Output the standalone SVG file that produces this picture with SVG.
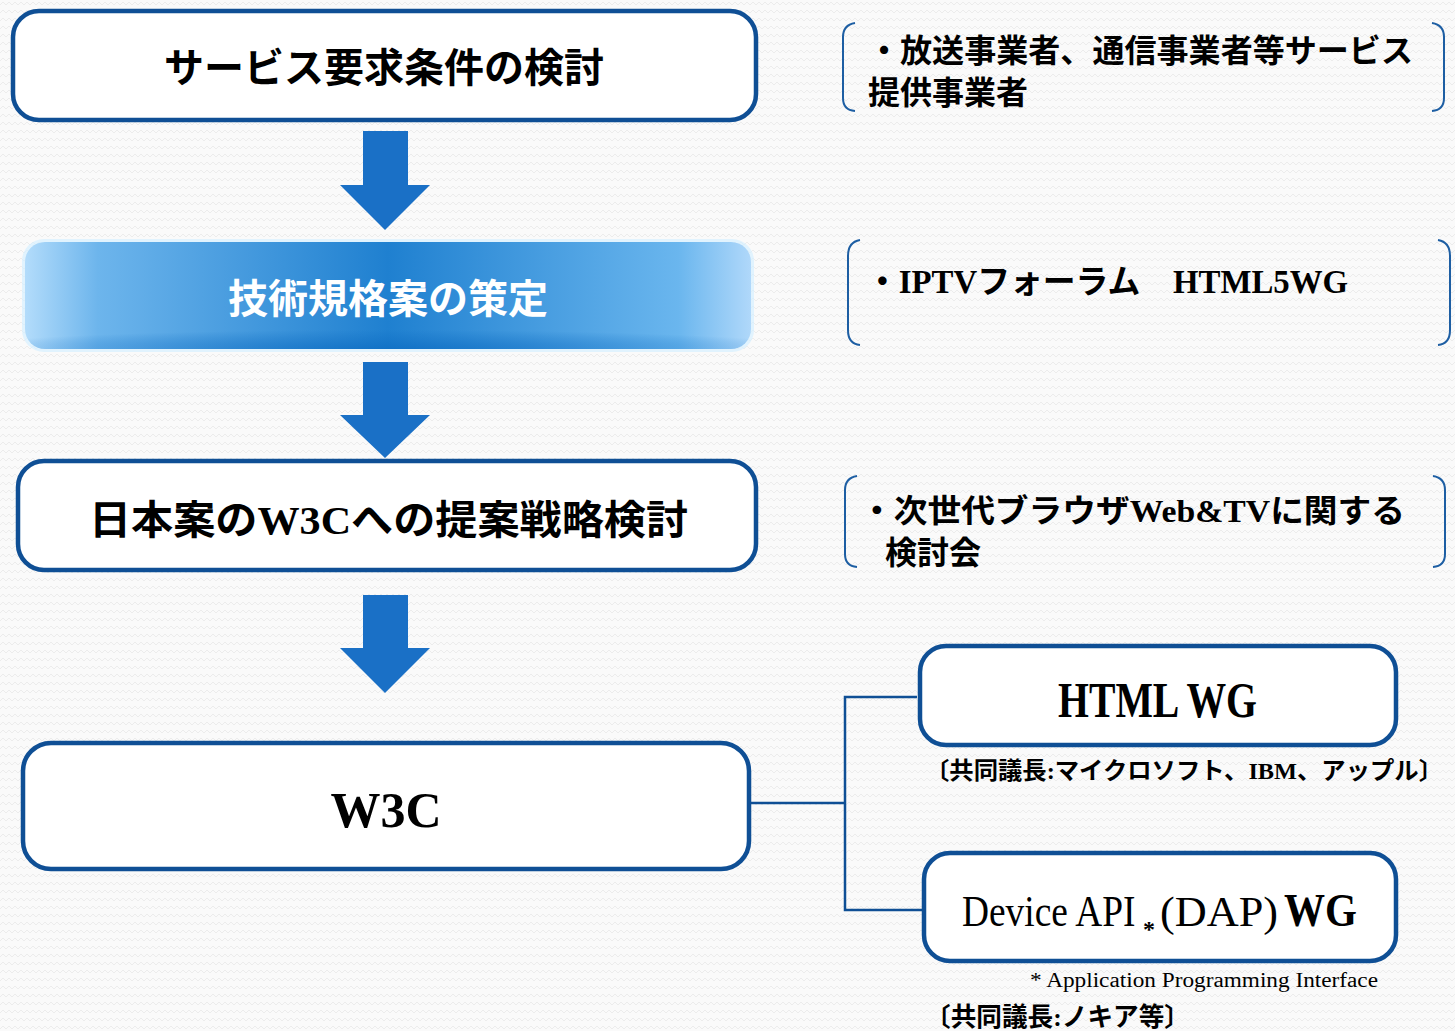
<svg xmlns="http://www.w3.org/2000/svg" width="1455" height="1031" viewBox="0 0 1455 1031">
<defs>
<pattern id="bg" width="12" height="8" patternUnits="userSpaceOnUse">
<rect width="12" height="8" fill="#fafafa"/>
<polyline points="0,5 3,2 6,5 9,2 12,5" fill="none" stroke="#ececec" stroke-width="1"/>
</pattern>
<linearGradient id="g2" x1="0" y1="0" x2="1" y2="0">
<stop offset="0" stop-color="#b3dcfb"/>
<stop offset="0.1" stop-color="#6db5ec"/>
<stop offset="0.5" stop-color="#1f80d0"/>
<stop offset="0.9" stop-color="#6ab6ee"/>
<stop offset="1" stop-color="#b0d8fa"/>
</linearGradient>
<radialGradient id="g2b" cx="0.5" cy="1" r="0.6" gradientTransform="translate(0.5 1) scale(1 0.3) translate(-0.5 -1)">
<stop offset="0" stop-color="#0d6cc2" stop-opacity="0.7"/>
<stop offset="1" stop-color="#0d6cc2" stop-opacity="0"/>
</radialGradient>
<style>
.box{fill:#ffffff;stroke:#0f4f95;stroke-width:4.5}
.arr{fill:#1a70c6}
.brk{fill:none;stroke:#1d5ea3;stroke-width:2}
.con{fill:none;stroke:#0f4f95;stroke-width:2.5}
.t{font-family:"Liberation Serif","Noto Sans CJK JP",serif;font-weight:bold;fill:#000}
.c{text-anchor:middle}
</style>
</defs>
<rect width="1455" height="1031" fill="url(#bg)"/>

<g id="connectors">
<polyline class="con" points="749,803 845,803"/>
<polyline class="con" points="917,697 845,697 845,910 923,910"/>
</g>

<g id="arrows">
<polygon class="arr" points="363,131 408,131 408,185 430,185 385,230 340,185 363,185"/>
<polygon class="arr" points="363,362 408,362 408,415 430,415 385,458 340,415 363,415"/>
<polygon class="arr" points="363,595 408,595 408,648 430,648 385,693 340,648 363,648"/>
</g>

<g id="node1">
<rect class="box" x="13" y="11" width="743" height="109" rx="26"/>
<text class="t c" x="384" y="82" font-size="40">サービス要求条件の検討</text>
</g>

<g id="node2">
<rect x="22" y="239" width="732" height="113" rx="22" fill="#d6f0ff" opacity="0.7"/>
<rect x="25" y="242" width="726" height="107" rx="20" fill="url(#g2)"/>
<rect x="25" y="242" width="726" height="107" rx="20" fill="url(#g2b)"/>
<text class="t c" x="388" y="313" font-size="40" style="fill:#ffffff">技術規格案の策定</text>
</g>

<g id="node3">
<rect class="box" x="18" y="461" width="738" height="109" rx="26"/>
<text class="t" x="89" y="534" font-size="40" textLength="599" lengthAdjust="spacingAndGlyphs">日本案のW3Cへの提案戦略検討</text>
</g>

<g id="node4">
<rect class="box" x="23" y="743" width="726" height="126" rx="28"/>
<text class="t c" x="386" y="827" font-size="50">W3C</text>
</g>

<g id="node5">
<rect class="box" x="920" y="646" width="476" height="99" rx="26"/>
<text class="t" x="1058" y="717" font-size="50" textLength="199" lengthAdjust="spacingAndGlyphs">HTML WG</text>
</g>
<text class="t" x="925" y="779" font-size="24" textLength="518" lengthAdjust="spacingAndGlyphs">〔共同議長:マイクロソフト、IBM、アップル〕</text>

<g id="node6">
<rect class="box" x="924" y="853" width="472" height="108" rx="26"/>
<g transform="translate(962,926) scale(0.85,1)">
<text class="t" x="0" y="0" font-size="44" style="font-weight:normal">Device API</text>
</g>
<text class="t" x="1143" y="937" font-size="24">*</text>
<text class="t" x="1160" y="926" font-size="42" style="font-weight:normal" textLength="118" lengthAdjust="spacingAndGlyphs">(DAP)</text>
<text class="t" x="1284" y="926" font-size="46" textLength="73" lengthAdjust="spacingAndGlyphs">WG</text>
</g>
<text class="t" x="1030" y="987" font-size="20" style="font-weight:normal" textLength="348" lengthAdjust="spacingAndGlyphs">* Application Programming Interface</text>
<text class="t" x="925" y="1026" font-size="26" textLength="265" lengthAdjust="spacingAndGlyphs">〔共同議長:ノキア等〕</text>

<g id="note1">
<path class="brk" d="M855,23 Q843,25 843,37 L843,98 Q843,110 855,111"/>
<path class="brk" d="M1432,23 Q1444,25 1444,37 L1444,98 Q1444,110 1432,111"/>
<text class="t" x="868" y="62" font-size="32" textLength="545" lengthAdjust="spacingAndGlyphs">・放送事業者、通信事業者等サービス</text>
<text class="t" x="868" y="104" font-size="32">提供事業者</text>
</g>

<g id="note2">
<path class="brk" d="M860,240 Q848,242 848,256 L848,330 Q848,344 860,345"/>
<path class="brk" d="M1438,240 Q1450,242 1450,256 L1450,330 Q1450,344 1438,345"/>
<text class="t" x="866" y="293" font-size="33" textLength="482" lengthAdjust="spacingAndGlyphs">・IPTVフォーラム　HTML5WG</text>
</g>

<g id="note3">
<path class="brk" d="M857,476 Q845,478 845,490 L845,554 Q845,566 857,567"/>
<path class="brk" d="M1433,476 Q1445,478 1445,490 L1445,554 Q1445,566 1433,567"/>
<text class="t" x="860" y="522" font-size="32" textLength="545" lengthAdjust="spacingAndGlyphs">・次世代ブラウザWeb&amp;TVに関する</text>
<text class="t" x="885" y="564" font-size="32">検討会</text>
</g>
</svg>
